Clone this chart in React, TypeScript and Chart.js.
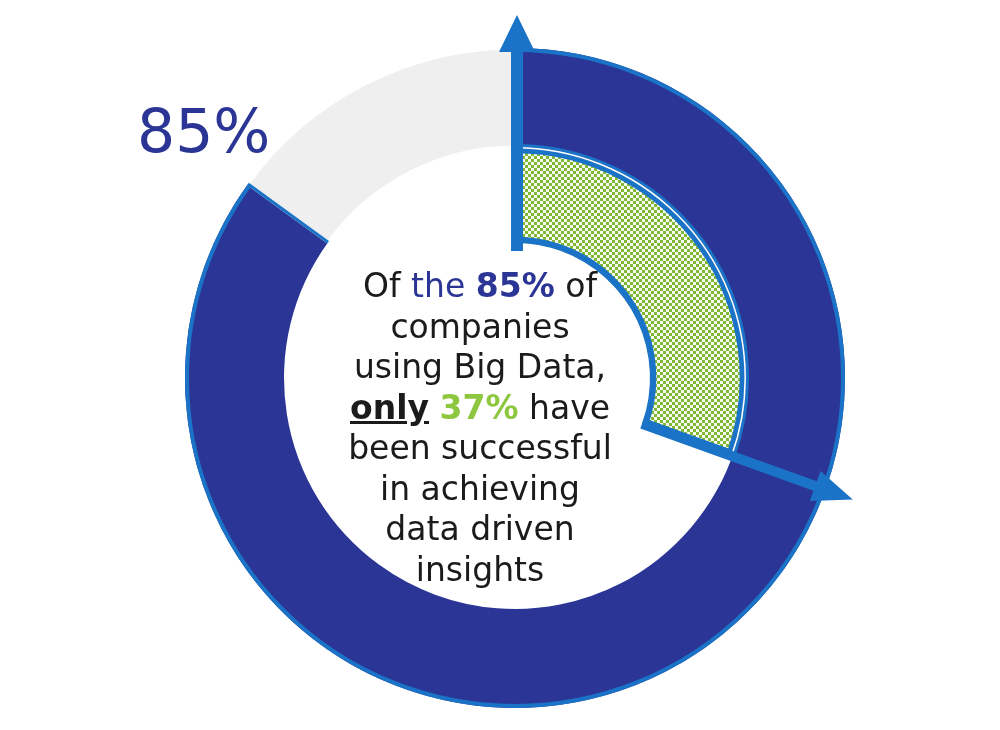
import React, { useEffect, useRef } from "react";
import { Chart, registerables } from "chart.js";

Chart.register(...registerables);

// ---- data ----
const outerLabels = ["Companies using Big Data", "Not using Big Data"];
const outerValues = [85, 15];
const innerLabels = ["Successful in achieving data driven insights", "Other"];
const innerValues = [30.5, 69.5];
const bigLabel = "85%";

const DARK = "#2b3595";
const GRAY = "#efefef";
const BLUE = "#1a73c6";
const GREEN = "#80b833";

function makeChecker(): CanvasPattern | string {
  const c = document.createElement("canvas");
  c.width = 6;
  c.height = 6;
  const g = c.getContext("2d");
  if (!g) return GREEN;
  g.fillStyle = "#f7fbf2";
  g.fillRect(0, 0, 6, 6);
  g.fillStyle = GREEN;
  g.fillRect(0, 0, 3, 3);
  g.fillRect(3, 3, 3, 3);
  return g.createPattern(c, "repeat") || GREEN;
}

function drawArrow(
  ctx: CanvasRenderingContext2D,
  cx: number,
  cy: number,
  ang: number,
  r0: number,
  rTip: number,
  shaft: number,
  headHalf: number,
  headLen: number,
  shift: number
) {
  const ux = Math.cos(ang);
  const uy = Math.sin(ang);
  const px = -uy;
  const py = ux;
  const ox = cx + px * shift;
  const oy = cy + py * shift;
  const rBase = rTip - headLen;
  const pt = (r: number, s: number): [number, number] => [ox + ux * r + px * s, oy + uy * r + py * s];
  const pts = [
    pt(r0, -shaft / 2),
    pt(rBase, -shaft / 2),
    pt(rBase, -headHalf),
    pt(rTip, 0),
    pt(rBase, headHalf),
    pt(rBase, shaft / 2),
    pt(r0, shaft / 2),
  ];
  ctx.beginPath();
  ctx.moveTo(pts[0][0], pts[0][1]);
  for (let i = 1; i < pts.length; i++) ctx.lineTo(pts[i][0], pts[i][1]);
  ctx.closePath();
  ctx.fill();
}

const outlinePlugin = {
  id: "wedgeOutline",
  afterDatasetsDraw(chart: any) {
    const ctx: CanvasRenderingContext2D = chart.ctx;
    const outer = chart.getDatasetMeta(0).data[0];
    const inner = chart.getDatasetMeta(1).data[0];
    if (!outer || !inner) return;
    const keys = ["x", "y", "startAngle", "endAngle", "innerRadius", "outerRadius"];
    const p = outer.getProps(keys, true);
    const q = inner.getProps(keys, true);
    ctx.save();
    ctx.strokeStyle = BLUE;
    ctx.fillStyle = BLUE;
    // outer edge of the dark segment
    ctx.lineWidth = 4;
    ctx.beginPath();
    ctx.arc(p.x, p.y, p.outerRadius - 2, p.startAngle, p.endAngle);
    ctx.stroke();
    // end cap of the dark segment
    ctx.lineWidth = 3;
    ctx.beginPath();
    ctx.moveTo(p.x + Math.cos(p.endAngle) * p.innerRadius, p.y + Math.sin(p.endAngle) * p.innerRadius);
    ctx.lineTo(p.x + Math.cos(p.endAngle) * p.outerRadius, p.y + Math.sin(p.endAngle) * p.outerRadius);
    ctx.stroke();
    // inner edge of dark ring along the highlighted wedge
    ctx.lineWidth = 3;
    ctx.beginPath();
    ctx.arc(p.x, p.y, p.innerRadius + 1.5, q.startAngle, q.endAngle);
    ctx.stroke();
    // thin white separator
    ctx.strokeStyle = "#ffffff";
    ctx.lineWidth = 1.5;
    ctx.beginPath();
    ctx.arc(p.x, p.y, q.outerRadius - 0.8, q.startAngle, q.endAngle);
    ctx.stroke();
    // arrows
    drawArrow(ctx, p.x, p.y, q.startAngle, q.innerRadius - 8, p.outerRadius + 33, 12, 18, 37, 2);
    drawArrow(ctx, p.x, p.y, q.endAngle, q.innerRadius, p.outerRadius + 29, 10, 16, 40, 0);
    ctx.restore();
  },
};

export default function App() {
  const ref = useRef<HTMLCanvasElement | null>(null);

  useEffect(() => {
    if (!ref.current) return;
    const checker = makeChecker();
    const chart = new Chart(ref.current, {
      type: "doughnut",
      data: {
        labels: outerLabels,
        datasets: [
          {
            label: "Big Data adoption",
            data: outerValues,
            backgroundColor: [DARK, GRAY],
            borderColor: ["#ffffff", "#ffffff"],
            borderWidth: [0, 3],
            weight: 99,
          } as any,
          {
            label: "Success",
            data: innerValues,
            backgroundColor: [checker, "rgba(0,0,0,0)"],
            borderColor: [BLUE, "rgba(0,0,0,0)"],
            borderWidth: [6, 0],
            borderAlign: "inner",
            weight: 96,
          } as any,
        ],
      },
      options: {
        responsive: false,
        animation: false,
        radius: 330,
        cutout: "40.9%",
        layout: { padding: { left: 30, top: 26, right: 0, bottom: 0 } },
        plugins: {
          legend: { display: false },
          tooltip: { enabled: false },
        },
      } as any,
      plugins: [outlinePlugin],
    });
    return () => chart.destroy();
  }, []);

  const font = "'DejaVu Sans', sans-serif";

  return (
    <div style={{ position: "absolute", left: 0, top: 0, width: 1000, height: 730, background: "#fff", overflow: "hidden" }}>
      <canvas ref={ref} width={1000} height={730} style={{ display: "block", width: 1000, height: 730 }} />
      <div
        style={{
          position: "absolute",
          left: 137,
          top: 101,
          fontFamily: font,
          fontSize: 60,
          lineHeight: "60px",
          color: DARK,
          whiteSpace: "nowrap",
        }}
      >
        {bigLabel}
      </div>
      <div
        style={{
          position: "absolute",
          left: 280,
          top: 266,
          width: 400,
          textAlign: "center",
          fontFamily: font,
          fontSize: 33,
          lineHeight: "40.5px",
          color: "#1b1b1b",
        }}
      >
        <div>
          Of <span style={{ color: DARK }}>the</span>{" "}
          <span style={{ color: DARK, fontWeight: 700 }}>85%</span> of
        </div>
        <div>companies</div>
        <div>using Big Data,</div>
        <div>
          <span style={{ fontWeight: 700, textDecoration: "underline" }}>only</span>{" "}
          <span style={{ color: "#8dc63f", fontWeight: 700 }}>37%</span> have
        </div>
        <div>been successful</div>
        <div>in achieving</div>
        <div>data driven</div>
        <div>insights</div>
      </div>
    </div>
  );
}
